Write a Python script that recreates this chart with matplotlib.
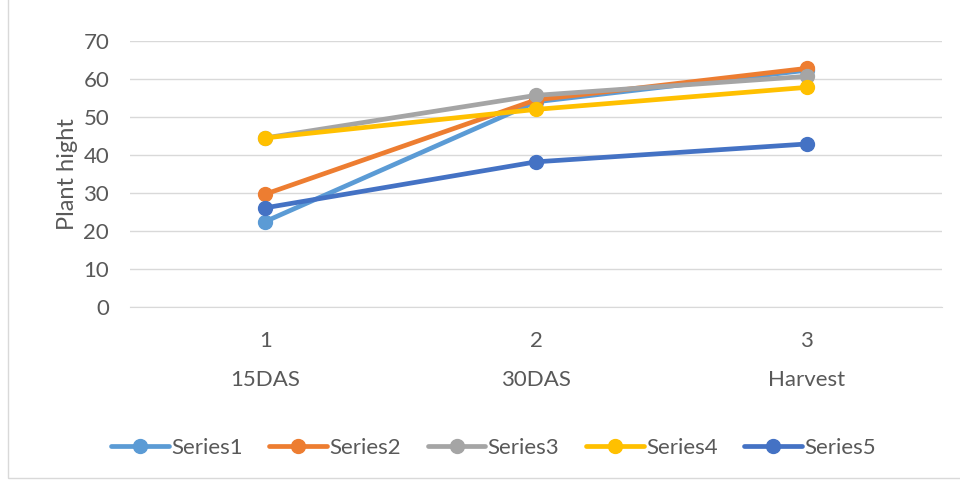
import matplotlib.pyplot as plt
from matplotlib.patches import Rectangle

# valores
positions = [1, 2, 3]
stages = ["15DAS", "30DAS", "Harvest"]
series_names = ["Series1", "Series2", "Series3", "Series4", "Series5"]
series1 = [22.5, 54.0, 62.3]
series2 = [29.7, 54.5, 62.8]
series3 = [44.5, 55.7, 60.7]
series4 = [44.5, 52.0, 57.8]
series5 = [26.1, 38.2, 42.9]
colors = ["#5B9BD5", "#ED7D31", "#A5A5A5", "#FFC000", "#4472C4"]

plt.rcParams['font.family'] = ['Lato', 'DejaVu Sans']
txt = "#595959"
fs = 16

fig = plt.figure(figsize=(9.6, 4.8), dpi=100)
ax = fig.add_axes([130/960, 1-307/480, 812/960, 266/480])

# borde del grafico
fig.patches.append(Rectangle((8/960, 2/480), 1.0, 1.0, transform=fig.transFigure,
                             fill=False, edgecolor="#D9D9D9", linewidth=1))

all_series = [series1, series2, series3, series4, series5]
for name, vals, c in zip(series_names, all_series, colors):
    ax.plot(positions, vals, color=c, linewidth=3.4, marker='o', markersize=10,
            label=name, solid_capstyle='round')

ax.set_xlim(0.5, 3.5)
ax.set_ylim(0, 70)
ax.set_yticks(range(0, 71, 10))
ax.set_xticks(positions)
ax.set_xticklabels([str(p) for p in positions])
ax.grid(axis='y', color="#D9D9D9", linewidth=1)
ax.set_axisbelow(True)
for s in ['top', 'right', 'left']:
    ax.spines[s].set_visible(False)
ax.spines['bottom'].set_color("#D9D9D9")
ax.tick_params(axis='both', length=0, labelsize=fs, colors=txt)
ax.tick_params(axis='x', pad=17)
ax.tick_params(axis='y', pad=15)

# segundo nivel de etiquetas
for p, st in zip(positions, stages):
    ax.text(p, -19.2, st, ha='center', va='center', fontsize=fs, color=txt,
            transform=ax.transData, clip_on=False)

ax.set_ylabel("Plant hight", fontsize=17, color=txt, labelpad=4)

fig.legend(loc='center', bbox_to_anchor=(0.514, 1-448/480), ncol=5, frameon=False,
           fontsize=16, labelcolor=txt, handlelength=2.6, handletextpad=0.1,
           columnspacing=1.2, markerscale=1.0)

plt.savefig("out.png", dpi=100)
